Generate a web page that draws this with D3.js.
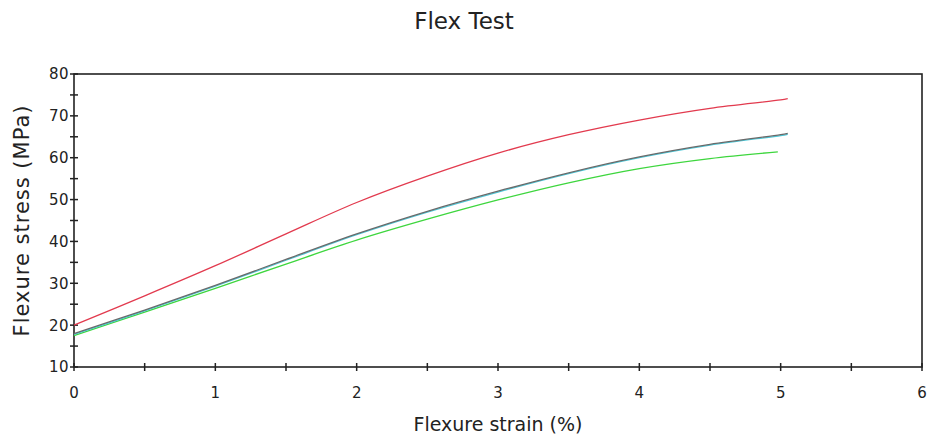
<!DOCTYPE html>
<html>
<head>
<meta charset="utf-8">
<script src="https://cdn.jsdelivr.net/npm/d3@7"></script>
<style>
  body { margin: 0; background: #fff; }
  svg text { font-family: "DejaVu Sans", Verdana, sans-serif; fill: #222; }
</style>
</head>
<body>
<div id="chart"></div>
<script>
// strain (%) sample points and stress (MPa)
const strainRed = [0, 0.5, 1, 1.5, 2, 2.5, 3, 3.5, 4, 4.5, 5, 5.05];
const stressRed = [20, 27, 34.2, 41.8, 49.3, 55.6, 61.1, 65.5, 69, 71.8, 73.8, 74.1];

const strainGray = [0, 0.5, 1, 1.5, 2, 2.5, 3, 3.5, 4, 4.5, 5, 5.05];
const stressGray = [18, 23.6, 29.5, 35.7, 41.8, 47.2, 52, 56.4, 60.2, 63.2, 65.5, 65.8];

const strainCyan = [0, 0.5, 1, 1.5, 2, 2.5, 3, 3.5, 4, 4.5, 5, 5.05];
const stressCyan = [17.8, 23.4, 29.3, 35.5, 41.6, 47.0, 51.8, 56.2, 60.0, 63.0, 65.3, 65.6];

const strainGreen = [0, 0.5, 1, 1.5, 2, 2.5, 3, 3.5, 4, 4.5, 4.98];
const stressGreen = [17.5, 23.1, 28.8, 34.6, 40.3, 45.3, 49.9, 54.0, 57.4, 59.8, 61.4];

const xTicks = [0, 1, 2, 3, 4, 5, 6];
const yTicks = [10, 20, 30, 40, 50, 60, 70, 80];

const width = 928, height = 439;
const margin = {top: 74, right: 6, bottom: 72, left: 74};

const svg = d3.select('#chart').append('svg')
  .attr('width', width)
  .attr('height', height);

const x = d3.scaleLinear().domain([0, 6]).range([margin.left, width - margin.right]);
const y = d3.scaleLinear().domain([10, 80]).range([height - margin.bottom, margin.top]);

// frame around the plot
svg.append('rect')
  .attr('x', x(0)).attr('y', y(80))
  .attr('width', x(6) - x(0)).attr('height', y(10) - y(80))
  .attr('fill', 'none').attr('stroke', '#222').attr('stroke-width', 1.6);

// x axis - crossing ticks, minor at halves
const xAxis = svg.append('g').attr('transform', `translate(0,${y(10)})`);
xAxis.selectAll('line.tick')
  .data(d3.range(0, 6.01, 0.5))
  .join('line')
  .attr('x1', d => x(d)).attr('x2', d => x(d))
  .attr('y1', -4).attr('y2', 4)
  .attr('stroke', '#222').attr('stroke-width', 1.5);
xAxis.selectAll('text')
  .data(xTicks)
  .join('text')
  .attr('x', d => x(d)).attr('y', 31)
  .attr('text-anchor', 'middle')
  .attr('font-size', 15)
  .text(d => d);

// y axis
const yAxis = svg.append('g').attr('transform', `translate(${x(0)},0)`);
yAxis.selectAll('line.tick')
  .data(d3.range(10, 80.01, 5))
  .join('line')
  .attr('x1', -4).attr('x2', 4)
  .attr('y1', d => y(d)).attr('y2', d => y(d))
  .attr('stroke', '#222').attr('stroke-width', 1.5);
yAxis.selectAll('text')
  .data(yTicks)
  .join('text')
  .attr('x', -5).attr('y', d => y(d))
  .attr('dy', '0.36em')
  .attr('text-anchor', 'end')
  .attr('font-size', 15)
  .attr('letter-spacing', 0.5)
  .text(d => d);

// curves
const line = d3.line()
  .x(d => x(d[0]))
  .y(d => y(d[1]))
  .curve(d3.curveCatmullRom);

const series = [
  {xs: strainGreen, ys: stressGreen, color: '#3ed63e'},
  {xs: strainCyan, ys: stressCyan, color: '#4cc8d8'},
  {xs: strainGray, ys: stressGray, color: '#6a6a6a'},
  {xs: strainRed, ys: stressRed, color: '#e23a4e'}
];

series.forEach(s => {
  svg.append('path')
    .datum(d3.zip(s.xs, s.ys))
    .attr('fill', 'none')
    .attr('stroke', s.color)
    .attr('stroke-width', 1.3)
    .attr('d', line);
});

// titles
svg.append('text')
  .attr('x', width / 2).attr('y', 29)
  .attr('text-anchor', 'middle')
  .attr('font-size', 23)
  .text('Flex Test');

svg.append('text')
  .attr('x', (x(0) + x(6)) / 2).attr('y', 431)
  .attr('text-anchor', 'middle')
  .attr('font-size', 19)
  .text('Flexure strain (%)');

svg.append('text')
  .attr('transform', `translate(29,${(y(10) + y(80)) / 2}) rotate(-90)`)
  .attr('text-anchor', 'middle')
  .attr('font-size', 21)
  .attr('letter-spacing', 1)
  .text('Flexure stress (MPa)');
</script>
</body>
</html>
